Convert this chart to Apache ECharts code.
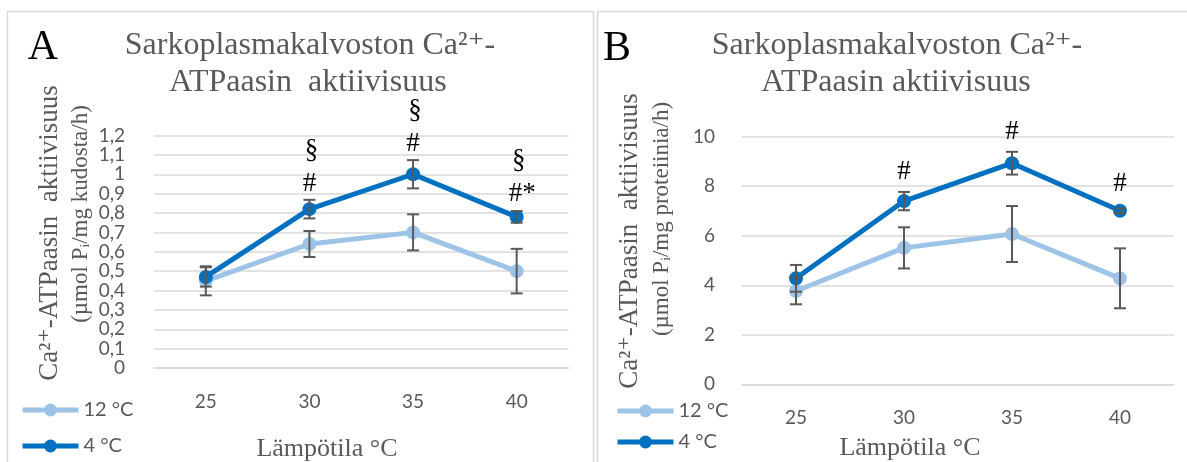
<!DOCTYPE html>
<html>
<head>
<meta charset="utf-8">
<script src="https://cdn.jsdelivr.net/npm/echarts@6/dist/echarts.min.js"></script>
<style>html,body{margin:0;padding:0;background:#fff;}#c{width:1187px;height:462px;}</style>
</head>
<body>
<div id="c"></div>
<script>
// ---- data ----
const categories = ['25', '30', '35', '40'];
const seriesNames = ['12 °C', '4 °C'];
const a12 = [0.45, 0.64, 0.70, 0.50];
const a12Err = [0.075, 0.067, 0.093, 0.115];
const a4 = [0.47, 0.82, 1.00, 0.78];
const a4Err = [0.05, 0.048, 0.073, 0.03];
const b12 = [3.77, 5.51, 6.07, 4.28];
const b12Err = [0.54, 0.83, 1.13, 1.21];
const b4 = [4.28, 7.40, 8.93, 7.01];
const b4Err = [0.54, 0.37, 0.46, 0.10];
const aHash = ['', '#', '#', '#*'];
const aSect = ['', '§', '§', '§'];
const bHash = ['', '#', '#', '#'];
const titleLine1 = 'Sarkoplasmakalvoston Ca²⁺-';
const titleLine2A = 'ATPaasin  aktiivisuus';
const titleLine2B = 'ATPaasin aktiivisuus';
const yName1 = 'Ca²⁺-ATPaasin  aktiivisuus';
const yName2A = '(µmol Pᵢ/mg kudosta/h)';
const yName2B = '(µmol Pᵢ/mg proteiinia/h)';
const xName = 'Lämpötila °C';

const C12 = '#9DC3E6', C4 = '#0070C0', GRID = '#d9d9d9', TXT = '#595959';
const SERIF = '"Liberation Serif", "DejaVu Serif", serif';
const SANS = 'Lato, "Open Sans", sans-serif';

const chart = echarts.init(document.getElementById('c'));

function errRender(params, api) {
  const x = api.value(0), y = api.value(1), e = api.value(2);
  const t = api.coord([x, y + e]), b = api.coord([x, y - e]);
  const hw = 6, st = {stroke: '#595959', lineWidth: 2};
  return {type: 'group', children: [
    {type: 'line', shape: {x1: t[0], y1: t[1], x2: b[0], y2: b[1]}, style: st},
    {type: 'line', shape: {x1: t[0] - hw, y1: t[1], x2: t[0] + hw, y2: t[1]}, style: st},
    {type: 'line', shape: {x1: b[0] - hw, y1: b[1], x2: b[0] + hw, y2: b[1]}, style: st}
  ]};
}
function errData(vals, errs) { return vals.map((v, i) => [i, v, errs[i]]); }

function annotRender(hashArr, sectArr, off1, off2) {
  return function (params, api) {
    const i = params.dataIndex;
    const x = api.value(0), y = api.value(1), e = api.value(2);
    const p = api.coord([x, y]);
    const t = api.coord([x, y + e]);
    const top = Math.min(t[1], p[1] - 7);
    const ch = [];
    const h = hashArr[i];
    if (h) {
      ch.push({type: 'text', x: h.length > 1 ? p[0] - 8 : p[0], y: top + off1,
        style: {text: h, font: '27px ' + SERIF, fill: '#000', align: h.length > 1 ? 'left' : 'center', verticalAlign: 'middle'}});
    }
    const s = sectArr ? sectArr[i] : '';
    if (s) {
      ch.push({type: 'text', x: p[0] + 2, y: top + off2,
        style: {text: s, font: '27px ' + SERIF, fill: '#000', align: 'center', verticalAlign: 'middle'}});
    }
    return {type: 'group', children: ch};
  };
}

const lineCommon = {type: 'line', symbol: 'circle', symbolSize: 14, lineStyle: {width: 5}};
const legendCommon = {data: seriesNames, orient: 'vertical', padding: 0, itemWidth: 56, itemHeight: 16,
  lineStyle: {width: 5}, selectedMode: false,
  textStyle: {color: TXT, fontFamily: SANS, fontSize: 20, lineHeight: 20}};

const option = {
  animation: false,
  grid: [
    {left: 154, top: 135.5, width: 414.5, height: 232.5},
    {left: 742, top: 136.7, width: 432, height: 247.6}
  ],
  xAxis: [0, 1].map(g => ({
    type: 'category', gridIndex: g, data: categories,
    axisLine: {show: true, lineStyle: {color: GRID, width: 1.5}},
    axisTick: {show: false},
    axisLabel: {color: TXT, fontFamily: SANS, fontSize: 19, margin: 24}
  })),
  yAxis: [
    {type: 'value', gridIndex: 0, min: 0, max: 1.2, interval: 0.1,
     axisLine: {show: false}, axisTick: {show: false},
     splitLine: {lineStyle: {color: GRID, width: 1.5}},
     axisLabel: {color: TXT, fontFamily: SANS, fontSize: 19, margin: 29,
       formatter: v => String(Math.round(v * 10) / 10).replace('.', ',')}},
    {type: 'value', gridIndex: 1, min: 0, max: 10, interval: 2,
     axisLine: {show: false}, axisTick: {show: false},
     splitLine: {lineStyle: {color: GRID, width: 1.5}},
     axisLabel: {color: TXT, fontFamily: SANS, fontSize: 19, margin: 27}}
  ],
  legend: [
    Object.assign({}, legendCommon, {left: 20, top: 400, itemGap: 16}),
    Object.assign({}, legendCommon, {left: 615, top: 401, itemGap: 11})
  ],
  series: [
    Object.assign({}, lineCommon, {name: seriesNames[0], xAxisIndex: 0, yAxisIndex: 0, data: a12, color: C12, z: 2}),
    Object.assign({}, lineCommon, {name: seriesNames[1], xAxisIndex: 0, yAxisIndex: 0, data: a4, color: C4, z: 3}),
    Object.assign({}, lineCommon, {name: seriesNames[0], xAxisIndex: 1, yAxisIndex: 1, data: b12, color: C12, z: 2}),
    Object.assign({}, lineCommon, {name: seriesNames[1], xAxisIndex: 1, yAxisIndex: 1, data: b4, color: C4, z: 3}),
    {type: 'custom', xAxisIndex: 0, yAxisIndex: 0, data: errData(a12, a12Err), renderItem: errRender, z: 4, encode: {x: 0, y: 1}},
    {type: 'custom', xAxisIndex: 0, yAxisIndex: 0, data: errData(a4, a4Err), renderItem: errRender, z: 4, encode: {x: 0, y: 1}},
    {type: 'custom', xAxisIndex: 1, yAxisIndex: 1, data: errData(b12, b12Err), renderItem: errRender, z: 4, encode: {x: 0, y: 1}},
    {type: 'custom', xAxisIndex: 1, yAxisIndex: 1, data: errData(b4, b4Err), renderItem: errRender, z: 4, encode: {x: 0, y: 1}},
    {type: 'custom', xAxisIndex: 0, yAxisIndex: 0, data: errData(a4, a4Err), renderItem: annotRender(aHash, aSect, -16, -49), z: 5, encode: {x: 0, y: 1}},
    {type: 'custom', xAxisIndex: 1, yAxisIndex: 1, data: errData(b4, b4Err), renderItem: annotRender(bHash, null, -20, 0), z: 5, encode: {x: 0, y: 1}}
  ],
  graphic: [
    {type: 'rect', shape: {x: 7.5, y: 11.5, width: 586, height: 470}, style: {fill: 'none', stroke: GRID, lineWidth: 1.5}, silent: true},
    {type: 'rect', shape: {x: 597.5, y: 11.5, width: 600, height: 470}, style: {fill: 'none', stroke: GRID, lineWidth: 1.5}, silent: true},
    {type: 'text', x: 43, y: 48, style: {text: 'A', font: '42px ' + SERIF, fill: '#000', align: 'center', verticalAlign: 'middle'}},
    {type: 'text', x: 617, y: 49, style: {text: 'B', font: '42px ' + SERIF, fill: '#000', align: 'center', verticalAlign: 'middle'}},
    {type: 'text', x: 310, y: 46, style: {text: titleLine1, font: '32px ' + SERIF, fill: TXT, align: 'center', verticalAlign: 'middle'}},
    {type: 'text', x: 308, y: 83, style: {text: titleLine2A, font: '32px ' + SERIF, fill: TXT, align: 'center', verticalAlign: 'middle'}},
    {type: 'text', x: 897, y: 46, style: {text: titleLine1, font: '32px ' + SERIF, fill: TXT, align: 'center', verticalAlign: 'middle'}},
    {type: 'text', x: 896, y: 83, style: {text: titleLine2B, font: '32px ' + SERIF, fill: TXT, align: 'center', verticalAlign: 'middle'}},
    {type: 'text', x: 50, y: 233, rotation: Math.PI / 2, style: {text: yName1, font: '27px ' + SERIF, fill: TXT, align: 'center', verticalAlign: 'middle'}},
    {type: 'text', x: 81, y: 214, rotation: Math.PI / 2, style: {text: yName2A, font: '23px ' + SERIF, fill: TXT, align: 'center', verticalAlign: 'middle'}},
    {type: 'text', x: 630, y: 241, rotation: Math.PI / 2, style: {text: yName1, font: '27px ' + SERIF, fill: TXT, align: 'center', verticalAlign: 'middle'}},
    {type: 'text', x: 662, y: 219, rotation: Math.PI / 2, style: {text: yName2B, font: '23px ' + SERIF, fill: TXT, align: 'center', verticalAlign: 'middle'}},
    {type: 'text', x: 327, y: 449, style: {text: xName, font: '26px ' + SERIF, fill: TXT, align: 'center', verticalAlign: 'middle'}},
    {type: 'text', x: 910, y: 448, style: {text: xName, font: '26px ' + SERIF, fill: TXT, align: 'center', verticalAlign: 'middle'}}
  ]
};
chart.setOption(option);
</script>
</body>
</html>
